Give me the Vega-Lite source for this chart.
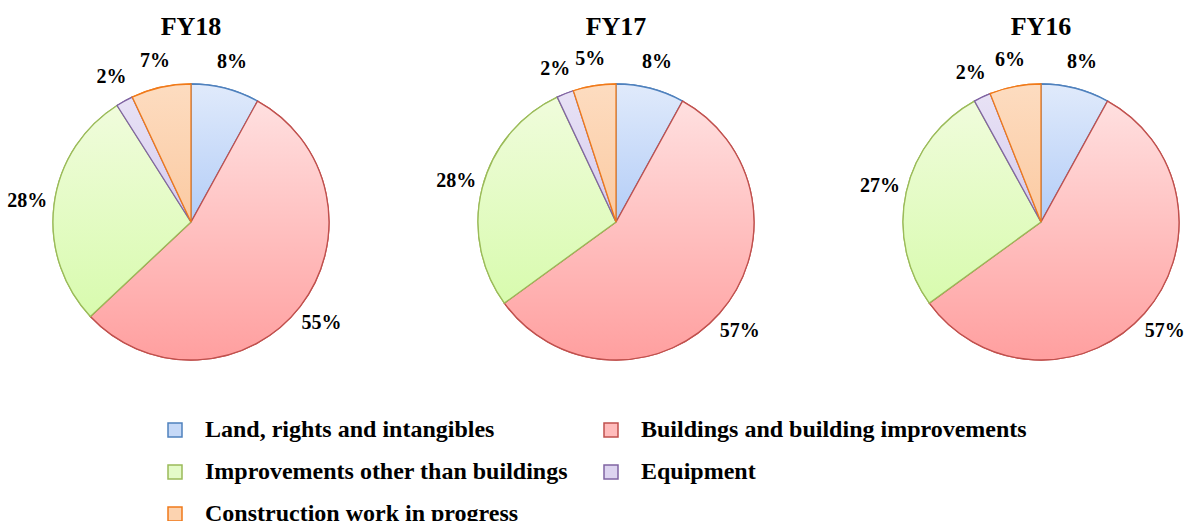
{
  "$schema": "https://vega.github.io/schema/vega-lite/v6.json",
  "background": "white",
  "padding": {"top": 14, "left": 5, "right": 5, "bottom": 5},
  "data": {
    "values": [
      {"year": "FY18", "category": "Land, rights and intangibles", "idx": 1, "pct": 0.08},
      {"year": "FY18", "category": "Buildings and building improvements", "idx": 2, "pct": 0.55},
      {"year": "FY18", "category": "Improvements other than buildings", "idx": 3, "pct": 0.28},
      {"year": "FY18", "category": "Equipment", "idx": 4, "pct": 0.02},
      {"year": "FY18", "category": "Construction work in progress", "idx": 5, "pct": 0.07},
      {"year": "FY17", "category": "Land, rights and intangibles", "idx": 1, "pct": 0.08},
      {"year": "FY17", "category": "Buildings and building improvements", "idx": 2, "pct": 0.57},
      {"year": "FY17", "category": "Improvements other than buildings", "idx": 3, "pct": 0.28},
      {"year": "FY17", "category": "Equipment", "idx": 4, "pct": 0.02},
      {"year": "FY17", "category": "Construction work in progress", "idx": 5, "pct": 0.05},
      {"year": "FY16", "category": "Land, rights and intangibles", "idx": 1, "pct": 0.08},
      {"year": "FY16", "category": "Buildings and building improvements", "idx": 2, "pct": 0.57},
      {"year": "FY16", "category": "Improvements other than buildings", "idx": 3, "pct": 0.27},
      {"year": "FY16", "category": "Equipment", "idx": 4, "pct": 0.02},
      {"year": "FY16", "category": "Construction work in progress", "idx": 5, "pct": 0.06}
    ]
  },
  "facet": {
    "column": {
      "field": "year",
      "type": "nominal",
      "sort": ["FY18", "FY17", "FY16"],
      "title": null,
      "header": {
        "labelFont": "Liberation Serif",
        "labelFontSize": 26,
        "labelFontWeight": "bold",
        "labelColor": "black",
        "labelPadding": 9
      }
    }
  },
  "spacing": 53,
  "spec": {
    "width": 372,
    "height": 316,
    "encoding": {
      "theta": {"field": "pct", "type": "quantitative", "stack": true},
      "order": {"field": "idx", "type": "quantitative"}
    },
    "layer": [
      {
        "mark": {"type": "arc", "outerRadius": 138, "strokeWidth": 1.3},
        "encoding": {
          "fill": {
            "field": "category",
            "type": "nominal",
            "sort": ["Land, rights and intangibles", "Buildings and building improvements", "Improvements other than buildings", "Equipment", "Construction work in progress"],
            "scale": {
              "domain": ["Land, rights and intangibles", "Buildings and building improvements", "Improvements other than buildings", "Equipment", "Construction work in progress"],
              "range": ["#c6d9f7", "#ffbcbc", "#e4fbc8", "#ddd4f0", "#fcd3b0"]
            },
            "legend": {
              "orient": "none",
              "legendX": 158,
              "legendY": 354,
              "columns": 2,
              "direction": "horizontal",
              "title": null,
              "symbolType": "square",
              "symbolSize": 196,
              "symbolStrokeWidth": 1.5,
              "labelFont": "Liberation Serif",
              "labelFontSize": 24,
              "labelFontWeight": "bold",
              "labelColor": "black",
              "labelOffset": 18,
              "labelLimit": 600,
              "columnPadding": 31,
              "rowPadding": 18
            }
          },
          "stroke": {
            "field": "category",
            "type": "nominal",
            "sort": ["Land, rights and intangibles", "Buildings and building improvements", "Improvements other than buildings", "Equipment", "Construction work in progress"],
            "scale": {
              "domain": ["Land, rights and intangibles", "Buildings and building improvements", "Improvements other than buildings", "Equipment", "Construction work in progress"],
              "range": ["#4f81bd", "#c0504d", "#9bbb59", "#8064a2", "#f07a1a"]
            }
          }
        }
      },
      {
        "mark": {"type": "arc", "outerRadius": 138, "strokeWidth": 1.3},
        "encoding": {
          "fill": {
            "condition": [
              {"test": "datum.idx === 1", "value": {"gradient": "linear", "x1": 0, "y1": 0, "x2": 0, "y2": 1, "stops": [{"offset": 0, "color": "#e0eafb"}, {"offset": 1, "color": "#b3cdf7"}]}},
              {"test": "datum.idx === 2", "value": {"gradient": "linear", "x1": 0, "y1": 0, "x2": 0, "y2": 1, "stops": [{"offset": 0, "color": "#ffe0e0"}, {"offset": 1, "color": "#ff9f9f"}]}},
              {"test": "datum.idx === 3", "value": {"gradient": "linear", "x1": 0, "y1": 0, "x2": 0, "y2": 1, "stops": [{"offset": 0, "color": "#f0fcdc"}, {"offset": 1, "color": "#d8fbae"}]}},
              {"test": "datum.idx === 4", "value": {"gradient": "linear", "x1": 0, "y1": 0, "x2": 0, "y2": 1, "stops": [{"offset": 0, "color": "#e8e2f5"}, {"offset": 1, "color": "#d5cbee"}]}}
            ],
            "value": {"gradient": "linear", "x1": 0, "y1": 0, "x2": 0, "y2": 1, "stops": [{"offset": 0, "color": "#fddcc0"}, {"offset": 1, "color": "#fbcaa2"}]}
          },
          "stroke": {
            "field": "category",
            "type": "nominal",
            "sort": ["Land, rights and intangibles", "Buildings and building improvements", "Improvements other than buildings", "Equipment", "Construction work in progress"]
          }
        }
      },
      {
        "mark": {"type": "text", "radius": 165, "font": "Liberation Serif", "fontSize": 20, "fontWeight": "bold", "color": "black"},
        "encoding": {
          "text": {"field": "pct", "type": "quantitative", "format": ".0%"}
        }
      }
    ]
  },
  "config": {
    "view": {"stroke": null}
  }
}
